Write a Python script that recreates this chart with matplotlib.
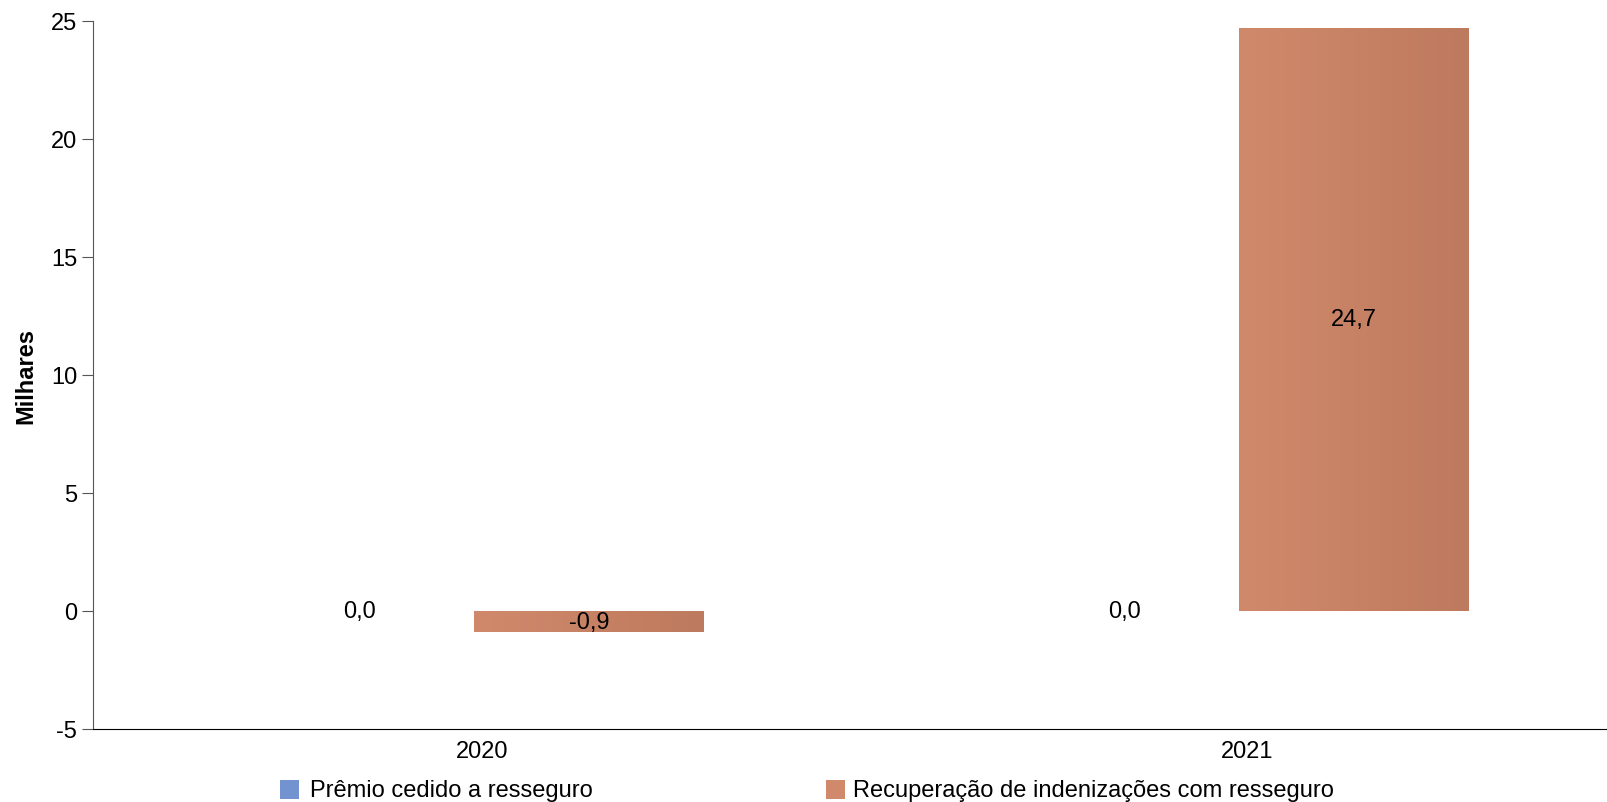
import numpy as np
import matplotlib.pyplot as plt
from matplotlib.patches import Rectangle
from matplotlib.colors import LinearSegmentedColormap

plt.rcParams['font.family'] = ['Liberation Sans', 'DejaVu Sans']
plt.rcParams['axes.unicode_minus'] = False

years = ["2020", "2021"]
series = ["Prêmio cedido a resseguro", "Recuperação de indenizações com resseguro"]
premio = [0.0, 0.0]
recuperacao = [-0.9, 24.7]

colors_left = ["#7393d0", "#d0896b"]
colors_right = ["#5f7bb8", "#be7a5e"]

fig = plt.figure(figsize=(16.08, 8.03), dpi=100)
ax = fig.add_axes([93 / 1608, 1 - 730 / 803, 1 - 93 / 1608, (730 - 21.5) / 803])

x = np.arange(len(years))
w = 0.30
grad = np.linspace(0, 1, 256).reshape(1, -1)
fs = 17

for k, vals in enumerate([premio, recuperacao]):
    cmap = LinearSegmentedColormap.from_list("g%d" % k, [colors_left[k], colors_right[k]])
    offs = -0.16 if k == 0 else 0.14
    for i, v in enumerate(vals):
        xc = x[i] + offs
        if v != 0:
            bar = ax.bar(xc, v, w, color=colors_left[k], linewidth=0)[0]
            im = ax.imshow(grad, cmap=cmap, aspect='auto',
                           extent=[xc - w / 2, xc + w / 2, min(0, v), max(0, v)], zorder=2)
            im.set_clip_path(bar)
        ax.text(xc, v / 2, ("%.1f" % v).replace(".", ","), ha='center', va='center',
                fontsize=fs, zorder=3)

ax.set_xlim(-0.508, 1.472)
ax.set_ylim(-5, 25)
ax.set_yticks(range(-5, 26, 5))
ax.set_xticks(x)
ax.set_xticklabels(years)
ax.tick_params(axis='y', labelsize=fs, length=8, color='#555555')
ax.tick_params(axis='x', labelsize=fs, length=0, pad=8)
ax.spines['top'].set_visible(False)
ax.spines['right'].set_visible(False)
ax.spines['left'].set_color('#555555')
ax.set_ylabel("Milhares", fontsize=fs, fontweight='bold', labelpad=10)

# legend
for k, (lx, tx) in enumerate([(280, 310), (826, 853)]):
    fig.patches.append(Rectangle((lx / 1608, 1 - 800 / 803), 19 / 1608, 19 / 803,
                                 transform=fig.transFigure, color=colors_left[k], linewidth=0))
    fig.text(tx / 1608, 1 - 791 / 803, series[k], fontsize=fs, va='center')

fig.savefig("out.png", dpi=100)
